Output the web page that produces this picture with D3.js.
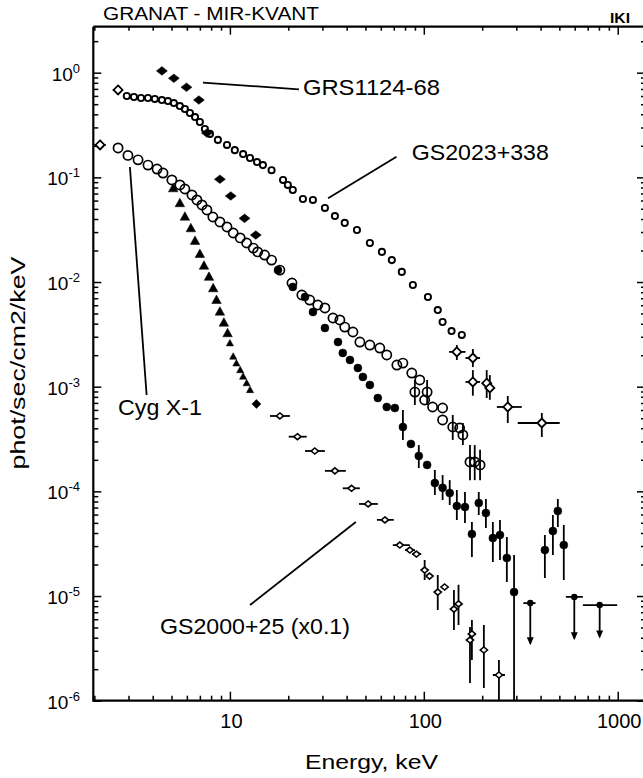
<!DOCTYPE html>
<html><head><meta charset="utf-8">
<script src="https://cdn.jsdelivr.net/npm/d3@7"></script>
<style>body{margin:0;background:#fff}svg{display:block}</style>
</head><body>
<script>
// ---------------- DATA (Energy keV, flux phot/s/cm2/keV) ----------------
// GS2023+338 : small open circles
const gs2023 = [[2.94,0.599],[3.20,0.586],[3.48,0.573],[3.78,0.573],[4.10,0.561],[4.46,0.548],[4.79,0.536],[5.14,0.513],[5.52,0.480],[5.86,0.450],[6.22,0.412],[6.61,0.377],[7.00,0.338],[7.43,0.290],[7.89,0.260],[8.67,0.228],[9.66,0.204],[10.6,0.182],[11.7,0.167],[12.7,0.153],[13.8,0.140],[14.8,0.131],[16.4,0.117],[18.8,0.0944],[19.9,0.0846],[21.1,0.0757],[23.8,0.0621],[26.8,0.0608],[30.9,0.0510],[34.8,0.0427],[39.1,0.0367],[45.2,0.0314],[52.7,0.0236],[60.8,0.0194],[68.4,0.0162],[77.0,0.0125],[87.8,0.00937],[105,0.00719],[118,0.00540],[125,0.00415],[139,0.00340],[157,0.00312]];
// GS2023+338 : open diamonds with error bars [E, F, Elo, Ehi, Flo, Fhi]
const gs2023Err = [[2.65,0.684,2.49,2.80,null,null],[148,0.00215,135,164,0.00180,0.00250],[179,0.00188,164,195,0.00154,0.00229],[179,0.00111,164,195,0.00082,0.00144],[211,0.00108,null,null,0.00078,0.00144],[219,0.000972,null,null,0.00075,0.00129],[271,0.000640,238,320,0.000450,0.000815],[406,0.000450,305,502,0.000331,0.000561]];
// Cyg X-1 : open circles
const cyg = [[2.65,0.191],[2.98,0.162],[3.36,0.147],[3.78,0.131],[4.21,0.120],[4.52,0.110],[5.02,0.0944],[5.52,0.0846],[5.86,0.0774],[6.37,0.0679],[6.76,0.0608],[7.18,0.0545],[7.61,0.0488],[8.17,0.0418],[8.88,0.0375],[9.66,0.0336],[10.4,0.0294],[11.3,0.0264],[12.2,0.0236],[13.2,0.0211],[13.9,0.0194],[15.1,0.0181],[16.4,0.0162],[18.1,0.0130],[20.9,0.00979],[23.5,0.00752],[25.8,0.00673],[28.4,0.00603],[30.9,0.00565],[34.0,0.00453],[36.9,0.00434],[39.1,0.00371],[43.1,0.00333],[46.8,0.00267],[52.7,0.00250],[59.3,0.00234],[64.4,0.00201],[72.6,0.00161],[78.0,0.00168],[86.7,0.00135],[95.3,0.00116],[89.9,0.000889],[104,0.000889],[101,0.000747],[111,0.000640],[125,0.000626],[125,0.000481],[141,0.000412],[153,0.000403],[159,0.000346],[173,0.000191],[183,0.000191],[195,0.000179]];
const cygFirst = [[2.14,0.204,2.0,2.29,null,null]];
const cygErr = [[89.9,0.000889,null,null,0.000669,0.00116],[104,0.000889,null,null,0.000669,0.00116],[141,0.000412,null,null,0.000310,0.000537],[159,0.000346,null,null,0.000277,0.000450],[173,0.000191,null,null,0.000128,0.000277],[183,0.000191,null,null,0.000128,0.000277],[195,0.000179,null,null,0.000128,0.000250]];
// GRS1124-68 : filled diamonds then filled circles
const grsDia = [[4.46,1.04],[5.14,0.884],[5.97,0.726],[6.92,0.548],[7.61,0.265],[8.88,0.0959],[10.1,0.0664],[11.9,0.0406],[13.6,0.0281]];
const grsCirc = [[17.7,0.0130],[21.1,0.00897],[24.4,0.00719],[26.8,0.00517],[30.9,0.00364],[36.1,0.00267],[38.2,0.00210],[41.6,0.00180],[45.7,0.00151],[48.5,0.00124],[52.7,0.00104],[57.9,0.000780],[64.4,0.000640],[70.9,0.000626],[78.0,0.000412],[85.8,0.000284],[94.2,0.000218],[104,0.000179],[114,0.000120],[125,0.000108],[136,0.0000964],[148,0.0000724],[163,0.0000708],[192,0.0000774],[209,0.0000621],[177,0.0000391],[227,0.0000358],[247,0.0000383],[268,0.0000231],[292,0.0000109],[421,0.0000275],[463,0.0000418],[491,0.0000649],[527,0.0000307]];
const grsErr = [[78.0,0.000412,null,null,0.000310,0.000599],[94.2,0.000218,null,null,0.000167,0.000277],[114,0.000120,null,null,0.0000923,0.000160],[125,0.000108,null,null,0.0000827,0.000143],[136,0.0000964,null,null,0.0000741,0.000128],[148,0.0000724,null,null,0.0000533,0.000103],[163,0.0000708,null,null,0.0000499,0.0000986],[192,0.0000774,null,null,0.0000595,0.0000986],[209,0.0000621,null,null,0.0000447,0.0000846],[177,0.0000391,null,null,0.0000236,0.0000509],[227,0.0000358,null,null,0.0000211,0.0000509],[247,0.0000383,null,null,0.0000221,0.0000533],[268,0.0000231,null,null,0.0000136,0.0000366],[292,0.0000109,null,null,0.0000009,0.0000247],[421,0.0000275,null,null,0.0000149,0.0000383],[463,0.0000418,null,null,0.0000247,0.0000595],[491,0.0000649,null,null,0.0000456,0.0000846],[527,0.0000307,null,null,0.0000142,0.0000477]];
// GRS1124-68 upper limits [E, F, Elo, Ehi, Farrow]
const grsUL = [[354,8.57e-6,326,377,3.54e-6],[597,9.8e-6,540,661,3.96e-6],[807,8.2e-6,661,993,4.1e-6]];
// GS2000+25 (x0.1) : filled triangles, one filled diamond, then open markers with bars
const gs2000Tri = [[5.10,0.0786],[5.52,0.0566],[5.86,0.0421],[6.29,0.0326],[6.61,0.0247],[7.00,0.0185],[7.35,0.0143],[7.80,0.0112],[8.20,0.00871],[8.53,0.00673],[8.88,0.00521],[9.31,0.00409],[9.73,0.00324],[10.0,0.00260],[10.4,0.00194],[10.8,0.00167],[11.3,0.00144],[11.7,0.00125],[12.2,0.00108],[12.7,0.000930]];
const gs2000Dia = [[13.7,0.000684]];
const gs2000Star = [[18.1,0.000525,16.1,20.4,null,null],[22.3,0.000333,20.1,24.9,null,null],[27.4,0.000243,24.4,30.9,null,null],[34.8,0.000157,30.9,39.6,null,null],[42.4,0.000107,38.2,46.8,null,null],[51.6,0.0000758,46.3,57.9,null,null],[63.0,0.0000533,57.3,70.0,null,null],[75.2,0.0000307,69.2,84.7,null,null],[84.7,0.0000275,80,90,null,null],[91.6,0.0000252,87,97,null,null],[101,0.0000177,null,null,0.0000142,0.0000221],[107,0.0000155,null,null,null,null],[118,0.0000109,null,null,0.00000735,0.0000159],[128,0.0000122,null,null,null,null],[143,0.0000075,null,null,0.00000473,0.0000114],[151,0.0000084,null,null,0.00000529,0.0000128],[173,0.0000038,null,null,0.00000148,0.00000506],[177,0.00000434,null,null,0.00000245,0.0000059],[204,0.00000305,null,null,0.00000132,0.00000529],[244,0.00000176,227,262,0.0000009,0.00000245]];
// axis ticks
const xMajor = [10,100,1000];
const xMinor = [2,3,4,5,6,7,8,9,20,30,40,50,60,70,80,90,200,300,400,500,600,700,800,900];
const yExp = [-6,-5,-4,-3,-2,-1,0];
const yMajor = yExp.map(e => Math.pow(10,e));
const yMinor = yExp.flatMap(e => [2,3,4,5,6,7,8,9].map(m => m*Math.pow(10,e))).filter(v => v < 2.75);
const xTickLabels = ["10","100","1000"];

// ---------------- DRAWING ----------------
const W=643,H=778, X0=93.3, X1=644, Y0=700.7, Y1=26.7;
const FONT="'Liberation Sans', Arial, sans-serif";
const x=d3.scaleLog().domain([1.975,1366]).range([X0,X1]);
const y=d3.scaleLog().domain([1e-6,2.75]).range([Y0,Y1]);
const svg=d3.select('body').append('svg').attr('width',W).attr('height',H);
svg.append('rect').attr('width',W).attr('height',H).attr('fill','#fff');
svg.append('defs').append('clipPath').attr('id','clip').append('rect')
  .attr('x',X0).attr('y',Y1).attr('width',X1-X0).attr('height',Y0-Y1);

function axisG(gen, tr, vals, size){
  const g=svg.append('g').attr('transform',tr)
    .call(gen.tickValues(vals).tickSize(size).tickSizeOuter(0).tickFormat(''));
  g.select('.domain').remove();
  g.selectAll('line').attr('stroke','#000').attr('stroke-width',1.5);
}
axisG(d3.axisTop(x),`translate(0,${Y0})`,xMajor,9);
axisG(d3.axisTop(x),`translate(0,${Y0})`,xMinor,5);
axisG(d3.axisBottom(x),`translate(0,${Y1})`,xMajor,8);
axisG(d3.axisBottom(x),`translate(0,${Y1})`,xMinor,4);
axisG(d3.axisRight(y),`translate(${X0},0)`,yMajor,8);
axisG(d3.axisRight(y),`translate(${X0},0)`,yMinor,5);
axisG(d3.axisLeft(y),`translate(${X1},0)`,yMajor,7);
axisG(d3.axisLeft(y),`translate(${X1},0)`,yMinor,3);
const frame=svg.append('g').attr('stroke','#000').attr('stroke-width',2.2);
frame.append('line').attr('x1',X0).attr('x2',W).attr('y1',Y0).attr('y2',Y0);
frame.append('line').attr('x1',X0).attr('x2',W).attr('y1',Y1).attr('y2',Y1);
frame.append('line').attr('x1',X0).attr('x2',X0).attr('y1',Y1).attr('y2',Y0+1);

xMajor.forEach((v,i)=>{
  svg.append('text').attr('x',x(v)+1.5).attr('y',728).attr('text-anchor','middle')
    .attr('font-family',FONT).attr('font-size',20).text(xTickLabels[i]);
});
yExp.forEach(e=>{
  const t=svg.append('text').attr('x',80).attr('y',y(Math.pow(10,e))+8).attr('text-anchor','end')
    .attr('font-family',FONT).attr('font-size',19);
  t.append('tspan').text('10');
  t.append('tspan').attr('dy',-8).attr('font-size',13).text(String(e));
});

svg.append('text').attr('x',103).attr('y',20).attr('font-family',FONT).attr('font-size',18)
  .attr('textLength',216).attr('lengthAdjust','spacingAndGlyphs').text('GRANAT - MIR-KVANT');
svg.append('text').attr('x',610).attr('y',23).attr('font-family',FONT).attr('font-size',15).attr('font-weight','bold')
  .attr('textLength',20).attr('lengthAdjust','spacingAndGlyphs').text('IKI');
svg.append('text').attr('x',305).attr('y',769).attr('font-family',FONT).attr('font-size',20)
  .attr('textLength',133).attr('lengthAdjust','spacingAndGlyphs').text('Energy, keV');
svg.append('text').attr('transform','translate(25,363) rotate(-90)').attr('text-anchor','middle')
  .attr('font-family',FONT).attr('font-size',21)
  .attr('textLength',213).attr('lengthAdjust','spacingAndGlyphs').text('phot/sec/cm2/keV');

const P=svg.append('g').attr('clip-path','url(#clip)');
const dia=(hw,hh)=>`M0,${-hh}L${hw},0L0,${hh}L${-hw},0Z`;
const tri=s=>`M0,${-s}L${s*0.95},${s*0.7}L${-s*0.95},${s*0.7}Z`;
function bars(arr, sw){
  arr.forEach(d=>{
    const [E,F,El,Eh,Fl,Fh]=d;
    if(El!=null) P.append('line').attr('x1',x(El)).attr('x2',x(Eh)).attr('y1',y(F)).attr('y2',y(F))
      .attr('stroke','#000').attr('stroke-width',sw);
    if(Fl!=null) P.append('line').attr('x1',x(E)).attr('x2',x(E)).attr('y1',y(Fl)).attr('y2',y(Fh))
      .attr('stroke','#000').attr('stroke-width',sw);
  });
}
function marks(arr, path, fill, sw){
  P.append('g').selectAll('path').data(arr).join('path')
    .attr('transform',d=>`translate(${x(d[0])},${y(d[1])})`).attr('d',path)
    .attr('fill',fill).attr('stroke','#000').attr('stroke-width',sw);
}
bars(gs2023Err,1.8); bars(cygFirst,1.8); bars(cygErr,1.8); bars(grsErr,1.8); bars(gs2000Star,1.8);
grsUL.forEach(d=>{
  const [E,F,El,Eh,Fa]=d;
  P.append('line').attr('x1',x(E)).attr('x2',x(E)).attr('y1',y(F)).attr('y2',y(Fa)).attr('stroke','#000').attr('stroke-width',1.8);
  P.append('line').attr('x1',x(El)).attr('x2',x(Eh)).attr('y1',y(F)).attr('y2',y(F)).attr('stroke','#000').attr('stroke-width',1.8);
  P.append('path').attr('transform',`translate(${x(E)},${y(Fa)})`).attr('d','M-3.5,-6L3.5,-6L0,2Z').attr('fill','#000');
  P.append('circle').attr('cx',x(E)).attr('cy',y(F)).attr('r',3.2).attr('fill','#000');
});
const circ=r=>d3.symbol(d3.symbolCircle, Math.PI*r*r)();
marks(cyg, circ(4.6), 'none', 1.7);
marks(cygFirst, dia(4.5,4.5), '#fff', 1.8);
marks(gs2023, circ(3.1), 'none', 1.9);
marks(gs2023Err, dia(4.5,4.5), '#fff', 1.8);
marks(grsDia, dia(5.5,4.3), '#000', 0.5);
marks(grsCirc, circ(4), '#000', 0.5);
marks(gs2000Tri.filter(d=>d[0]<9.8), tri(5), '#000', 0.5);
marks(gs2000Tri.filter(d=>d[0]>=9.8), tri(3.8), '#000', 0.5);
marks(gs2000Dia, dia(4.5,4.5), '#000', 0.5);
marks(gs2000Star, dia(3.6,3), '#fff', 1.6);

function leader(e1,f1,e2,f2){
  svg.append('line').attr('x1',x(e1)).attr('y1',y(f1)).attr('x2',x(e2)).attr('y2',y(f2))
    .attr('stroke','#000').attr('stroke-width',1.8);
}
leader(7.26,0.803,22.7,0.694);
leader(72.3,0.1576,32.1,0.0631);
leader(3.05,0.1256,3.72,0.000833);
leader(44.6,5.10e-5,12.7,8.21e-6);
function label(e,f,txt,len){
  svg.append('text').attr('x',x(e)).attr('y',y(f)).attr('font-family',FONT).attr('font-size',22)
    .attr('textLength',len).attr('lengthAdjust','spacingAndGlyphs').text(txt);
}
label(23.8,0.612,'GRS1124-68',137);
label(86.7,0.1466,'GS2023+338',137);
label(2.65,0.000537,'Cyg X-1',84);
label(4.36,4.34e-6,'GS2000+25 (x0.1)',190);
</script>
</body></html>
